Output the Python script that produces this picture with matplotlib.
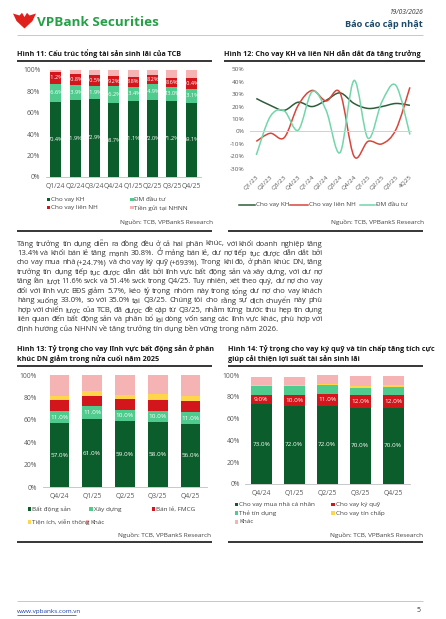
import matplotlib
matplotlib.use('Agg')
import matplotlib.pyplot as plt
from matplotlib.path import Path
from matplotlib.patches import PathPatch, Rectangle, Polygon

plt.rcParams['font.family'] = ['Open Sans', 'Noto Sans', 'DejaVu Sans']

W, H = 446, 619

# Hinh 11 - co cau tong tai san sinh lai (%)
q11 = ['Q1/24', 'Q2/24', 'Q3/24', 'Q4/24', 'Q1/25', 'Q2/25', 'Q3/25', 'Q4/25']
kh11 = [70.4, 71.9, 72.9, 68.7, 71.1, 72.0, 71.2, 69.1]
dm11 = [16.6, 13.9, 11.9, 16.2, 13.4, 14.9, 13.0, 13.1]
lnh11 = [11.2, 10.8, 10.5, 9.2, 8.8, 8.2, 8.6, 10.4]
nhnn11 = [1.8, 3.4, 4.7, 5.9, 6.7, 4.9, 7.2, 7.4]

# Hinh 12 - tang truong (%)
q12 = ['Q1/23', 'Q2/23', 'Q3/23', 'Q4/23', 'Q1/24', 'Q2/24', 'Q3/24', 'Q4/24',
       'Q1/25', 'Q2/25', 'Q3/25', '4Q25']
kh12 = [26.5, 21.0, 17.0, 23.5, 20.0, 25.0, 31.0, 22.5, 18.5, 20.0, 22.5, 21.0]
lnh12 = [-8.0, -1.5, -5.0, 21.0, 33.0, 24.5, 31.0, -20.0, -8.0, -10.0, 1.5, 35.5]
dm12 = [-19.0, 12.0, 16.5, 1.0, 32.0, 17.0, -17.0, 41.0, -5.5, 24.0, 37.0, -2.5]

# Hinh 13 - co cau cho vay khoi DN (%)
q13 = ['Q4/24', 'Q1/25', 'Q2/25', 'Q3/25', 'Q4/25']
bds13 = [57, 61, 59, 58, 56]
xd13 = [11, 11, 10, 10, 11]
bl13 = [10, 9, 10, 10, 10]
ti13 = [3, 5, 3, 5, 4]
khac13 = [19, 14, 18, 17, 19]

# Hinh 14 - co cau cho vay ban le (%)
q14 = ['Q4/24', 'Q1/25', 'Q2/25', 'Q3/25', 'Q4/25']
nha14 = [73, 72, 72, 70, 70]
kq14 = [9, 10, 11, 12, 12]
the14 = [8, 8, 8, 6, 7]
tc14 = [1, 1, 1, 2, 2]
khac14 = [7, 7, 8, 9, 8]

para = [
    'Tăng trưởng tín dụng diễn ra đồng đều ở cả hai phân khúc, với khối doanh nghiệp tăng',
    '13.4% và khối bán lẻ tăng mạnh 30.8%. Ở mảng bán lẻ, dư nợ tiếp tục được dẫn dắt bởi',
    'cho vay mua nhà (+24.7%) và cho vay ký quỹ (+693%). Trong khi đó, ở phân khúc DN,  tăng',
    'trưởng tín dụng tiếp tục được dẫn dắt bởi lĩnh vực bất động sản và xây dựng, với dư nợ',
    'tăng lần lượt 11.6% svck và 51.4% svck trong Q4/25. Tuy nhiên, xét theo quý, dư nợ cho vay',
    'đối với lĩnh vực BĐS giảm 5.7%, kéo tỷ trọng nhóm này trong tổng dư nợ cho vay khách',
    'hàng xuống 33.0%, so với 35.0% tại Q3/25. Chúng tôi cho rằng sự dịch chuyển này phù',
    'hợp với chiến lược của TCB, đã được đề cập từ Q3/25, nhằm từng bước thu hẹp tín dụng',
    'liên quan đến bất động sản và phân bổ lại dòng vốn sang các lĩnh vực khác, phù hợp với',
    'định hướng của NHNN về tăng trưởng tín dụng bền vững trong năm 2026.',
]

GREEN = '#0b5e2b'
TEAL = '#4fcb8d'
RED = '#d3161c'
PINK = '#f6b3b3'
YELLOW = '#ffd54a'
GREY = '#595959'
TICK = 4.9
LEG = 4.6

fig = plt.figure(figsize=(W / 100, H / 100), dpi=100)
page = fig.add_axes([0, 0, 1, 1])
page.set_xlim(0, W)
page.set_ylim(H, 0)
page.axis('off')
renderer = fig.canvas.get_renderer()


def add_ax(x0, y0, x1, y1):
    return fig.add_axes([x0 / W, 1 - y1 / H, (x1 - x0) / W, (y1 - y0) / H])


def hline(y, x0, x1, color='black', lw=1.0):
    page.plot([x0, x1], [y, y], color=color, lw=lw, solid_capstyle='butt')


def style_bar_ax(ax, cats, ypad, xpad):
    ax.set_xlim(-0.5, len(cats) - 0.5)
    ax.set_ylim(0, 100)
    ax.set_xticks(range(len(cats)))
    ax.set_xticklabels(cats)
    ax.set_yticks(range(0, 101, 20))
    ax.set_yticklabels([f'{v}%' for v in range(0, 101, 20)])
    for s in ['top', 'right', 'left']:
        ax.spines[s].set_visible(False)
    ax.spines['bottom'].set_color('#bfbfbf')
    ax.spines['bottom'].set_linewidth(0.6)
    ax.tick_params(axis='both', length=0, labelsize=TICK, colors=GREY)
    ax.tick_params(axis='y', pad=ypad)
    ax.tick_params(axis='x', pad=xpad)
    ax.patch.set_alpha(0)


def stack(ax, series, colors, width, labelled, fs):
    bottoms = [0.0] * len(series[0])
    for k, (vals, col) in enumerate(zip(series, colors)):
        ax.bar(range(len(vals)), vals, bottom=bottoms, width=width, color=col, linewidth=0)
        if k in labelled:
            for i, v in enumerate(vals):
                ax.text(i, bottoms[i] + v / 2, f'{v:.1f}%', ha='center', va='center',
                        color='white', fontsize=fs)
        bottoms = [b + v for b, v in zip(bottoms, vals)]


def legend_sq(x, y, color, label):
    page.add_patch(Rectangle((x, y - 1.8), 3.6, 3.6, color=color, lw=0))
    page.text(x + 4.4, y, label, fontsize=LEG, color='#404040', va='center', ha='left')


def title(x, y, s):
    page.text(x, y, s, fontsize=5.2, fontweight='bold', color='#1a1a1a', va='center', ha='left')


def source(x, y):
    page.text(x, y, 'Nguồn: TCB, VPBankS Research', fontsize=4.6, color='#404040',
              va='center', ha='right')


def text_w(s, fs):
    t = page.text(0, 0, s, fontsize=fs)
    w = t.get_window_extent(renderer).width
    t.remove()
    return w


# ---- header ----
logo = [(13, 13.5), (19.5, 15.5), (22, 12.8), (24.5, 17), (27, 12.8), (29.5, 15.5),
        (36, 13.5), (32.5, 21), (24.5, 28.5), (16.5, 21)]
page.add_patch(Polygon(logo, closed=True, color='#e0201b', lw=0))
page.text(37, 22.5, 'VPBank Securities', fontsize=9.7, fontweight='bold', color='#25a046',
          va='center', ha='left')
page.text(423, 12.3, '19/03/2026', fontsize=4.8, style='italic', color='#333333',
          va='center', ha='right')
page.text(423, 24.5, 'Báo cáo cập nhật', fontsize=6.6, fontweight='bold', color='#1d4a68',
          va='center', ha='right')
hline(35, 17, 423, color='#c8c8c8', lw=0.7)

# ---- Hinh 11 ----
title(17, 53.5, 'Hình 11: Cấu trúc tổng tài sản sinh lãi của TCB')
hline(61, 17, 212, lw=1.1)
ax11 = add_ax(46, 70, 201, 176.7)
stack(ax11, [kh11, dm11, lnh11, nhnn11], [GREEN, TEAL, RED, PINK], 0.57, [0, 1, 2], 4.1)
style_bar_ax(ax11, q11, 4.0, 4.4)
legend_sq(46.5, 199.3, GREEN, 'Cho vay KH')
legend_sq(130, 199.3, TEAL, 'ĐM đầu tư')
legend_sq(46.5, 207.7, RED, 'Cho vay liên NH')
legend_sq(130, 207.7, PINK, 'Tiền gửi tại NHNN')
source(213, 222.7)
hline(231, 17, 212, lw=1.1)

# ---- Hinh 12 ----
title(224, 53.5, 'Hình 12: Cho vay KH và liên NH dẫn dắt đà tăng trưởng')
hline(61, 224, 425, lw=1.1)
ax12 = add_ax(250, 69.3, 412, 168.7)
ax12.set_xlim(-0.45, 11.15)
ax12.set_ylim(-30, 50)
ax12.axhline(0, color='#d0d0d0', lw=0.7)


def smooth_path(xs, ys):
    pts = list(zip(xs, ys))
    verts = [pts[0]]
    codes = [Path.MOVETO]
    n = len(pts)
    for i in range(n - 1):
        p0 = pts[max(i - 1, 0)]
        p1 = pts[i]
        p2 = pts[i + 1]
        p3 = pts[min(i + 2, n - 1)]
        c1 = (p1[0] + (p2[0] - p0[0]) / 6, p1[1] + (p2[1] - p0[1]) / 6)
        c2 = (p2[0] - (p3[0] - p1[0]) / 6, p2[1] - (p3[1] - p1[1]) / 6)
        verts += [c1, c2, p2]
        codes += [Path.CURVE4] * 3
    return Path(verts, codes)


xs12 = list(range(len(q12)))
for vals, col in [(kh12, '#2f5d3c'), (lnh12, '#d8453b'), (dm12, '#72d6aa')]:
    ax12.add_patch(PathPatch(smooth_path(xs12, vals), facecolor='none', edgecolor=col, lw=1.1))
ax12.set_xticks(xs12)
ax12.set_xticklabels(q12, rotation=45, ha='right', va='top', rotation_mode='anchor')
ax12.set_yticks(range(-30, 51, 10))
ax12.set_yticklabels([f'{v}%' for v in range(-30, 51, 10)])
for s in ax12.spines.values():
    s.set_visible(False)
ax12.tick_params(axis='both', length=0, labelsize=TICK - 0.3, colors=GREY)
ax12.tick_params(axis='y', pad=4.0)
ax12.tick_params(axis='x', pad=4)
ax12.patch.set_alpha(0)
for x0, x1, col, lab in [(239, 255, '#2f5d3c', 'Cho vay KH'), (290, 308, '#d8453b', 'Cho vay liên NH'),
                         (360, 375, '#72d6aa', 'ĐM đầu tư')]:
    page.plot([x0, x1], [204.7, 204.7], color=col, lw=1.1)
    page.text(x1 + 1, 204.7, lab, fontsize=LEG, color='#404040', va='center', ha='left')
source(424, 222.7)
hline(231, 228, 423, lw=1.1)

# ---- doan van (can deu hai le) ----
left, right = 17, 322.5
avail = right - left
nat = sorted(text_w(l, 5.0) for l in para[:-1])
PFS = 5.0 * avail / nat[len(nat) // 2] * 1.03
for k, line in enumerate(para):
    y = 244 + k * 9.45
    words = line.split()
    fs = PFS
    widths = [text_w(w, fs) for w in words]
    min_gap = 1.6
    if sum(widths) + min_gap * (len(words) - 1) > avail:
        fs = fs * (avail - min_gap * (len(words) - 1)) / sum(widths)
        widths = [text_w(w, fs) for w in words]
    if k == len(para) - 1:
        page.text(left, y, line, fontsize=fs, color='#333333', va='center', ha='left')
        continue
    gap = (avail - sum(widths)) / (len(words) - 1)
    x = left
    for w, wd in zip(words, widths):
        page.text(x, y, w, fontsize=fs, color='#333333', va='center', ha='left')
        x += wd + gap

# ---- Hinh 13 ----
title(17, 349.5, 'Hình 13: Tỷ trọng cho vay lĩnh vực bất động sản ở phân')
title(17, 359, 'khúc DN giảm trong nửa cuối năm 2025')
hline(366, 17, 212, lw=1.1)
ax13 = add_ax(43, 375, 207, 487.3)
stack(ax13, [bds13, xd13, bl13, ti13, khac13], [GREEN, TEAL, RED, YELLOW, PINK], 0.6, [0, 1], 4.6)
style_bar_ax(ax13, q13, 4.3, 4.4)
legend_sq(27.5, 509, GREEN, 'Bất động sản')
legend_sq(89.3, 509, TEAL, 'Xây dựng')
legend_sq(151.8, 509, RED, 'Bán lẻ, FMCG')
legend_sq(27.5, 522, YELLOW, 'Tiện ích, viễn thông')
legend_sq(85.5, 522, PINK, 'Khác')
source(211, 535)
hline(542, 17, 212, lw=1.1)

# ---- Hinh 14 ----
title(228, 349.5, 'Hình 14: Tỷ trọng cho vay ký quỹ và tín chấp tăng tích cực')
title(228, 359, 'giúp cải thiện lợi suất tài sản sinh lãi')
hline(366, 228, 423, lw=1.1)
ax14 = add_ax(244.7, 375, 409.7, 484)
stack(ax14, [nha14, kq14, the14, tc14, khac14], [GREEN, RED, TEAL, YELLOW, PINK], 0.64, [0, 1], 4.6)
style_bar_ax(ax14, q14, 3.6, 4.0)
legend_sq(234.7, 504.3, GREEN, 'Cho vay mua nhà cá nhân')
legend_sq(331.3, 504.3, RED, 'Cho vay ký quỹ')
legend_sq(234.7, 513.3, TEAL, 'Thẻ tín dụng')
legend_sq(331.3, 513.3, YELLOW, 'Cho vay tín chấp')
legend_sq(234.7, 521.7, PINK, 'Khác')
source(423, 535)
hline(542, 228, 423, lw=1.1)

# ---- footer ----
hline(600.7, 17, 423, color='#c8c8c8', lw=0.7)
page.text(17, 611, 'www.vpbanks.com.vn', fontsize=4.6, color='#1f3fa6', va='center', ha='left')
hline(614.5, 17, 76, color='#1f3fa6', lw=0.5)
page.text(421, 611, '5', fontsize=5.0, color='#333333', va='center', ha='right')

fig.savefig('out.png', dpi=100)
